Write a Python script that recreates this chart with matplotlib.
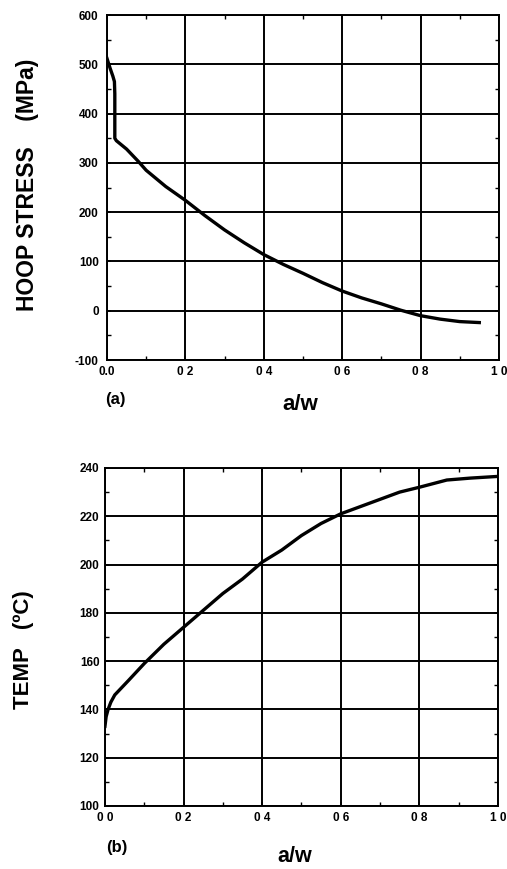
import matplotlib
matplotlib.use("Agg")
import matplotlib.pyplot as plt
from matplotlib.ticker import MultipleLocator

plt.rcParams['font.family'] = ['Liberation Sans', 'DejaVu Sans']

# Panel (a): hoop stress vs a/w
stress_x = [0.0, 0.008, 0.015, 0.019, 0.02, 0.02, 0.024, 0.05, 0.08, 0.1, 0.15, 0.2, 0.25, 0.3,
            0.35, 0.4, 0.45, 0.5, 0.55, 0.6, 0.65, 0.7, 0.75, 0.8, 0.85, 0.9, 0.95]
stress_y = [512, 492, 476, 465, 440, 350, 345, 328, 303, 285, 252, 224, 193, 164,
            138, 114, 94, 76, 57, 40, 26, 14, 1, -10, -17, -22, -24]

# Panel (b): temperature vs a/w
temp_x = [0.0, 0.003, 0.008, 0.015, 0.025, 0.06, 0.1, 0.15, 0.2, 0.25, 0.3, 0.35, 0.4, 0.45,
          0.5, 0.55, 0.6, 0.65, 0.7, 0.75, 0.8, 0.87, 0.93, 1.0]
temp_y = [133, 137, 140, 143, 146, 152, 159, 167, 174, 181, 188, 194, 201, 206,
          212, 217, 221, 224, 227, 230, 232, 235, 235.8, 236.5]

x_ticks = [0.0, 0.2, 0.4, 0.6, 0.8, 1.0]
x_labels_a = ["0.0", "0 2", "0 4", "0 6", "0 8", "1 0"]
x_labels_b = ["0 0", "0 2", "0 4", "0 6", "0 8", "1 0"]
stress_ticks = [-100, 0, 100, 200, 300, 400, 500, 600]
temp_ticks = [100, 120, 140, 160, 180, 200, 220, 240]

fig = plt.figure(figsize=(5.07, 8.69), dpi=100)
ax1 = fig.add_axes([0.211, 0.5857, 0.773, 0.397])
ax2 = fig.add_axes([0.207, 0.0725, 0.775, 0.389])

def style(ax, xlabels, yticks, ymin, ymax, yminor, ypad):
    ax.set_xlim(0, 1.0)
    ax.set_ylim(ymin, ymax)
    ax.set_xticks(x_ticks)
    ax.set_xticklabels(xlabels, fontsize=8.5, fontweight='bold')
    ax.set_yticks(yticks)
    ax.set_yticklabels([str(t) for t in yticks], fontsize=8.5, fontweight='bold')
    ax.xaxis.set_minor_locator(MultipleLocator(0.1))
    ax.yaxis.set_minor_locator(MultipleLocator(yminor))
    ax.tick_params(which='major', direction='in', length=3, width=1.2)
    ax.tick_params(which='minor', direction='in', length=3, width=1.0)
    ax.tick_params(axis='x', which='major', pad=4)
    ax.tick_params(axis='y', which='major', pad=ypad)
    ax.tick_params(top=True, right=True, which='both')
    ax.grid(True, which='major', color='black', linewidth=1.4)
    for s in ax.spines.values():
        s.set_linewidth(1.4)
        s.set_color('black')

style(ax1, x_labels_a, stress_ticks, -100, 600, 50, 6)
ax1.plot(stress_x, stress_y, color='black', linewidth=2.4, solid_joinstyle='round')

style(ax2, x_labels_b, temp_ticks, 100, 240, 10, 4)
ax2.plot(temp_x, temp_y, color='black', linewidth=2.4, solid_joinstyle='round')

fig.text(0.054, 0.787, "HOOP STRESS    (MPa)", rotation=90, ha='center', va='center',
         fontsize=16.5, fontweight='bold')
fig.text(0.047, 0.252, "TEMP   (ºC)", rotation=90, ha='center', va='center',
         fontsize=16, fontweight='bold')
fig.text(0.227, 0.540, "(a)", ha='center', va='center', fontsize=12, fontweight='bold')
fig.text(0.592, 0.535, "a/w", ha='center', va='center', fontsize=16, fontweight='bold')
fig.text(0.231, 0.025, "(b)", ha='center', va='center', fontsize=12, fontweight='bold')
fig.text(0.582, 0.0075, "a/w", ha='center', va='baseline', fontsize=15.5, fontweight='bold')

fig.savefig("out.png", dpi=100)
